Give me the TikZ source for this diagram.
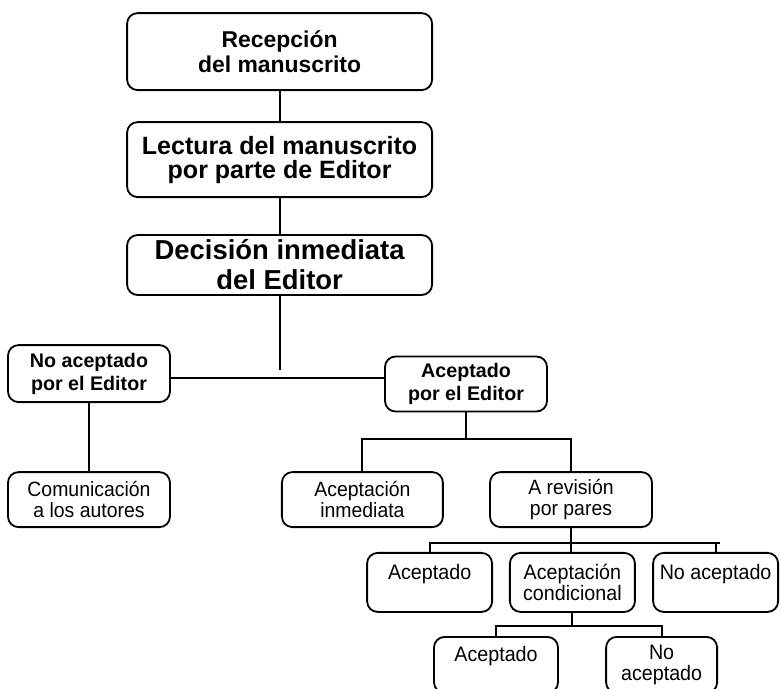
\documentclass[tikz,border=0pt]{standalone}
\usepackage{fontspec}
\setmainfont{Liberation Sans}
\newfontfamily\tallfont{Liberation Sans}[FakeStretch=0.94]
\tikzset{
	box/.style={draw,rectangle,rounded corners=7.5pt,align=center,line width=1.3pt,inner sep=0pt},
	head/.style={box,minimum width=7.625cm},
	sub/.style={box,minimum width=4.05cm,minimum height=1.375cm,font=\tallfont\fontsize{14.7}{15}\selectfont},
	subb/.style={sub,font=\fontsize{14}{16.4}\selectfont\bfseries},
	leaf/.style={box,minimum width=3.125cm,minimum height=1.475cm,font=\tallfont\fontsize{14.9}{15.5}\selectfont},
	link/.style={line width=1.3pt}
}
\begin{document}
\begin{tikzpicture}
	\useasboundingbox (0,0) rectangle (19.525,-17.2);
	\clip (0,0) rectangle (19.525,-17.2);
	\node[head,minimum height=1.925cm,font=\fontsize{16.3}{17.8}\selectfont\bfseries] (rec) at (6.99,-1.29) {Recepción\\del manuscrito};
	\node[head,minimum height=1.875cm,font=\fontsize{17.8}{17}\selectfont\bfseries] (lec) at (6.99,-3.99) {Lectura del manuscrito\\por parte de Editor};
	\node[head,minimum height=1.5cm,font=\fontsize{19.5}{21.3}\selectfont\bfseries] (dec) at (6.99,-6.625) {Decisión inmediata\\del Editor};
	\node[subb,minimum height=1.425cm] (noed) at (2.225,-9.34) {No aceptado\\por el Editor};
	\node[subb] (aced) at (11.65,-9.6) {Aceptado\\por el Editor};
	\node[sub] (com) at (2.225,-12.49) {Comunicación\\a los autores};
	\node[sub,minimum width=4.025cm] (inm) at (9.06,-12.49) {Aceptación\\inmediata};
	\node[sub] (rev) at (14.275,-12.49) {A revisión\\por pares};
	\node[leaf] (acp) at (10.74,-14.56) {Aceptado\\\mbox{}};
	\node[leaf] (cond) at (14.31,-14.56) {Aceptación\\condicional};
	\node[leaf] (noacp) at (17.89,-14.56) {No aceptado\\\mbox{}};
	\node[leaf,anchor=north,minimum width=3.1cm,minimum height=1.4cm] (acp2) at (12.4,-15.9) {Aceptado\\\mbox{}};
	\node[leaf,anchor=north,minimum width=2.775cm,minimum height=1.4cm] (noacp2) at (16.54,-15.9) {No\\aceptado};
	\coordinate (trunk) at (6.99,-9.25);
	\coordinate (join) at (6.99,-9.45);
	\coordinate (fork1) at (11.65,-10.975);
	\coordinate (fork2) at (14.275,-13.575);
	\coordinate (fork3) at (14.31,-15.65);
	\draw[link] (rec) -- (lec);
	\draw[link] (lec) -- (dec);
	\draw[link] (dec) -- (trunk);
	\draw[link] (noed.east |- join) -- (aced.west |- join);
	\draw[link] (noed) -- (com);
	\draw[link] (aced) -- (fork1);
	\draw[link] (inm.north) |- (fork1) -| (rev.north);
	\draw[link] (rev) -- (fork2);
	\draw[link] (acp.north) |- (fork2) -| (noacp.north);
	\draw[link] (fork2 -| noacp.north) -- ++(0.1,0);
	\draw[link] (fork2) -- (fork2 |- cond.north);
	\draw[link] (cond) -- (fork3);
	\draw[link] (acp2.north) |- (fork3) -| (noacp2.north);
\end{tikzpicture}
\end{document}
